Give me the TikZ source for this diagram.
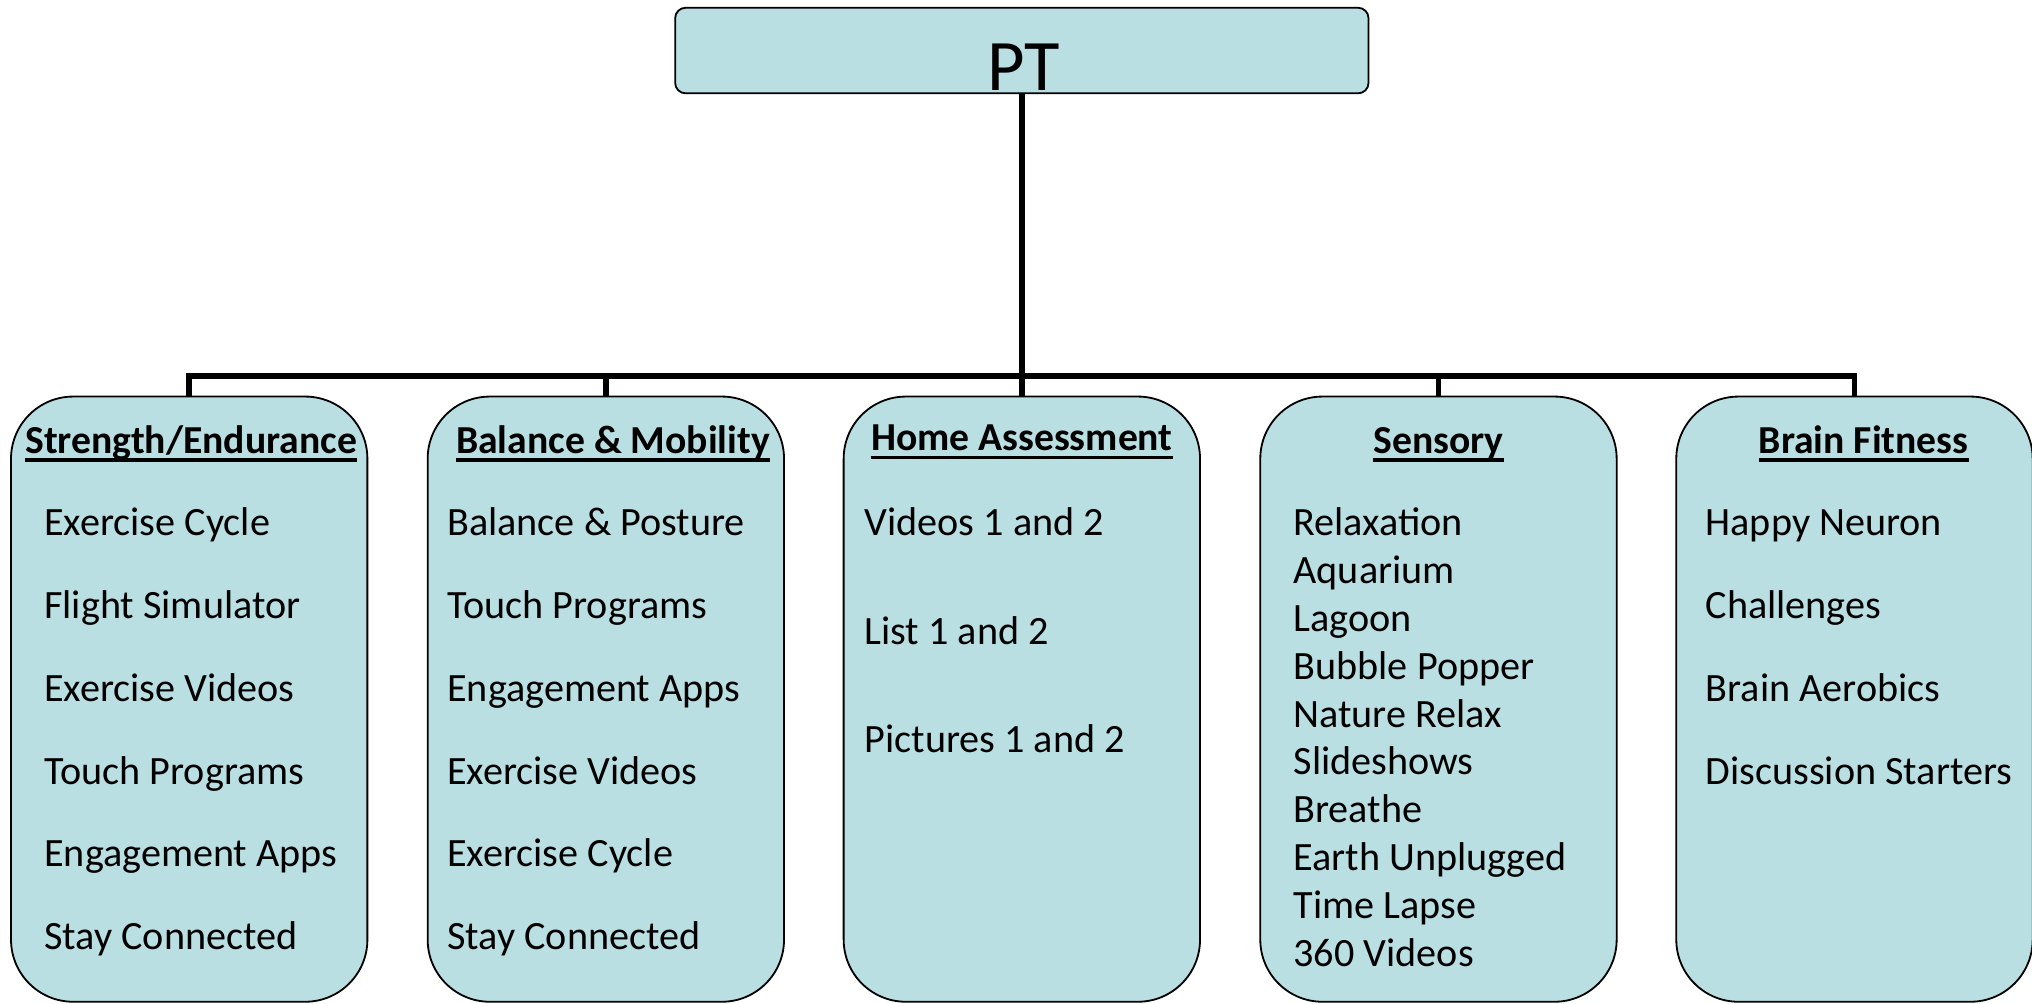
\documentclass[tikz,border=0pt]{standalone}
\usepackage{fontspec}
\setmainfont{Carlito}
\definecolor{boxfill}{RGB}{186,223,226}
\begin{document}
\begin{tikzpicture}[x=1pt,y=-1pt,
  box/.style={draw=black, line width=1.4pt, fill=boxfill, rounded corners=48pt,
    minimum width=275pt, minimum height=467pt, inner sep=0pt},
  topbox/.style={draw=black, line width=1.4pt, fill=boxfill, rounded corners=8pt,
    minimum width=535pt, minimum height=66pt, inner sep=0pt},
  conn/.style={line width=4.4pt, line join=miter},
  head/.style={font=\fontsize{30.6}{36}\selectfont\bfseries, inner sep=0pt, anchor=base},
  item/.style={font=\fontsize{31}{36}\selectfont, inner sep=0pt, anchor=base west},
  uline/.style={line width=2.6pt}]
\useasboundingbox (0,0) rectangle (1568,774.7);

% top box
\node[topbox] (pt) at (788.5,39) {};
\node[font=\fontsize{56}{60}\selectfont, inner sep=0pt, anchor=base] (ptlabel) at (790,70) {PT};

% category boxes
\node[box] (b1) at (146,539.5) {};
\node[box] (b2) at (467.5,539.5) {};
\node[box] (b3) at (788.5,539.5) {};
\node[box] (b4) at (1110,539.5) {};
\node[box] (b5) at (1431,539.5) {};

% connectors
\coordinate (bus) at (788.5,290);
\draw[conn] (pt.south) -- (bus);
\draw[conn] (b1.north) -- (b1.north |- bus) -- (b5.north |- bus) -- (b5.north);
\draw[conn] (b2.north |- bus) -- (b2.north);
\draw[conn] (b3.north |- bus) -- (b3.north);
\draw[conn] (b4.north |- bus) -- (b4.north);

% headers
\node[head] (h1) at (147.5,350) {Strength/Endurance};
\node[head] (h2) at (473,350) {Balance \& Mobility};
\node[head] (h3) at (788.5,348) {Home Assessment};
\node[head] (h4) at (1110,350) {Sensory};
\node[head] (h5) at (1438,350) {Brain Fitness};
\foreach \h in {h1,h2,h3,h4,h5}
  \draw[uline] ([yshift=-5pt]\h.base west) -- ([yshift=-5pt]\h.base east);

% items
\foreach \t [count=\i] in {Exercise Cycle, Flight Simulator, Exercise Videos, Touch Programs, Engagement Apps, Stay Connected}
  \node[item] (a\i) at (34,{349+64*\i}) {\t};
\foreach \t [count=\i] in {Balance \& Posture, Touch Programs, Engagement Apps, Exercise Videos, Exercise Cycle, Stay Connected}
  \node[item] (c\i) at (345,{349+64*\i}) {\t};
\foreach \t [count=\i] in {Videos 1 and 2, List 1 and 2, Pictures 1 and 2}
  \node[item] (d\i) at (667,{329+84*\i}) {\t};
\foreach \t [count=\i] in {Relaxation, Aquarium, Lagoon, Bubble Popper, Nature Relax, Slideshows, Breathe, Earth Unplugged, Time Lapse, 360 Videos}
  \node[item] (e\i) at (998,{376+37*\i}) {\t};
\foreach \t [count=\i] in {Happy Neuron, Challenges, Brain Aerobics, Discussion Starters}
  \node[item] (f\i) at (1316,{349+64*\i}) {\t};
\end{tikzpicture}
\end{document}
